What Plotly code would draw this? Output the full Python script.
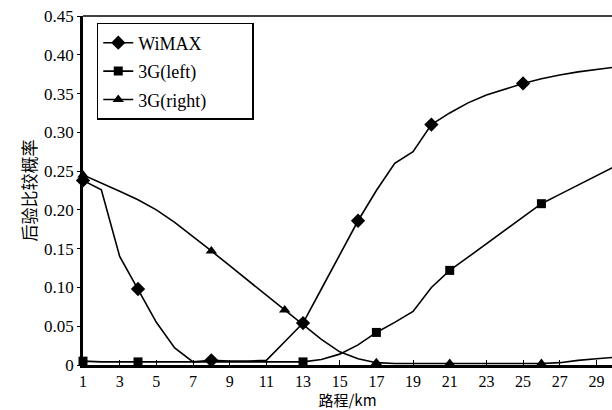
import plotly.graph_objects as go

# distance (km)
km = list(range(1, 31))

wimax = [0.238, 0.226, 0.140, 0.098, 0.055, 0.022, 0.004, 0.006, 0.005, 0.005,
         0.006, 0.030, 0.054, 0.098, 0.142, 0.186, 0.225, 0.260, 0.275, 0.310,
         0.325, 0.338, 0.348, 0.356, 0.363, 0.369, 0.374, 0.378, 0.381, 0.384]

g3_left = [0.005, 0.004, 0.004, 0.004, 0.004, 0.004, 0.004, 0.004, 0.004, 0.004,
           0.004, 0.004, 0.004, 0.007, 0.014, 0.026, 0.042, 0.055, 0.069, 0.100,
           0.122, 0.139, 0.156, 0.174, 0.191, 0.208, 0.220, 0.232, 0.244, 0.256]

g3_right = [0.245, 0.235, 0.224, 0.213, 0.200, 0.184, 0.166, 0.147, 0.128, 0.109,
            0.090, 0.071, 0.053, 0.033, 0.017, 0.008, 0.003, 0.002, 0.002, 0.002,
            0.002, 0.002, 0.002, 0.002, 0.002, 0.002, 0.003, 0.006, 0.008, 0.010]

# km values that carry a marker
wimax_marks = [1, 4, 8, 13, 16, 20, 25, 30]
left_marks = [1, 4, 13, 17, 21, 26, 30]
right_marks = [1, 8, 12, 17, 21, 26, 30]

series_names = ["WiMAX", "3G(left)", "3G(right)"]
y_ticks = [0, 0.05, 0.10, 0.15, 0.20, 0.25, 0.30, 0.35, 0.40, 0.45]
y_tick_text = ["0", "0.05", "0.10", "0.15", "0.20", "0.25", "0.30", "0.35", "0.40", "0.45"]
x_ticks = list(range(1, 31, 2))

serif = "Liberation Serif, Times New Roman, serif"
cjk = "Noto Sans CJK SC"

specs = [
    (series_names[0], wimax, wimax_marks, "diamond", 11),
    (series_names[1], g3_left, left_marks, "square", 9),
    (series_names[2], g3_right, right_marks, "triangle-up", 10),
]

pad = "\u00a0" * 9

fig = go.Figure()
for i, (name, ys, marks, sym, sz) in enumerate(specs):
    fig.add_trace(go.Scatter(x=km, y=ys, mode="lines", line=dict(color="black", width=1.6),
                             showlegend=False, cliponaxis=False, hoverinfo="skip"))
    mx = [k for k in marks]
    my = [ys[km.index(k)] for k in marks]
    fig.add_trace(go.Scatter(x=mx, y=my, mode="markers",
                             marker=dict(symbol=sym, size=sz, color="black"),
                             showlegend=False, cliponaxis=False))
    fig.add_trace(go.Scatter(x=[None], y=[None], mode="lines+markers", name=name + pad,
                             legendgroup=name,
                             line=dict(color="black", width=1.6),
                             marker=dict(symbol=sym, size=sz, color="black")))

fig.update_layout(
    width=612, height=410,
    margin=dict(l=83, r=0, t=16, b=45),
    paper_bgcolor="white", plot_bgcolor="white",
    font=dict(family=serif, size=16, color="black"),
    showlegend=True,
    legend=dict(x=0.026, y=0.98, xanchor="left", yanchor="top",
                bordercolor="black", borderwidth=1.5, bgcolor="white",
                font=dict(family=serif, size=18), tracegroupgap=2),
    xaxis=dict(range=[1, 29.85], tickvals=x_ticks, ticks="inside", ticklen=5,
               tickwidth=1.2, tickcolor="black", showline=True, linecolor="black",
               linewidth=2.5, mirror=False, showgrid=False, zeroline=False,
               tickfont=dict(family=serif, size=16),
               title=dict(text="路程/km", font=dict(family=cjk, size=15), standoff=4)),
    yaxis=dict(range=[0, 0.45], tickvals=y_ticks, ticktext=y_tick_text, ticks="outside",
               ticklen=3, tickwidth=1.2, tickcolor="black", showline=True,
               linecolor="black", linewidth=2.5, showgrid=False, zeroline=False,
               tickfont=dict(family=serif, size=17),
               title=dict(text="后验比较概率", font=dict(family=cjk, size=17), standoff=4)),
)

# top frame line
fig.add_shape(type="line", xref="paper", yref="paper", x0=0, x1=1, y0=1, y1=1,
              line=dict(color="black", width=1.5))

fig.write_html("out.html")
